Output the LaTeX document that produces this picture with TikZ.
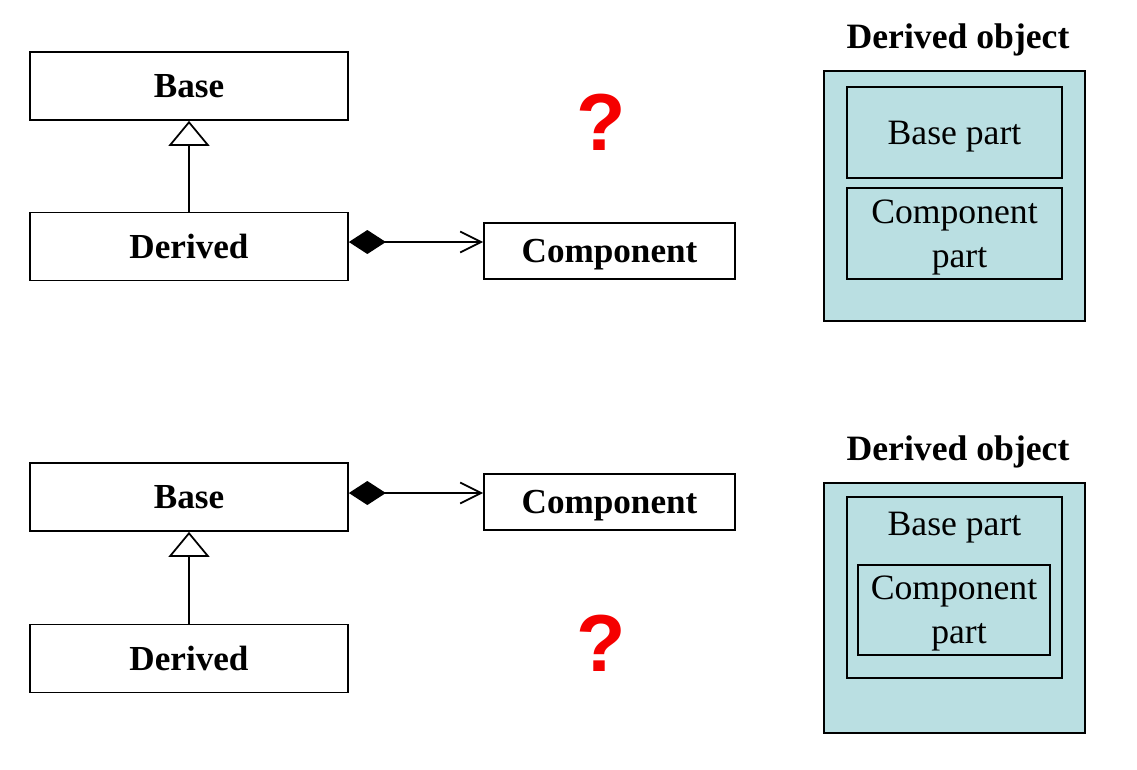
\documentclass[tikz,border=0pt]{standalone}
\usepackage{fontspec}
\setmainfont{Liberation Serif}
\newfontfamily\qfont{Liberation Sans}
\usetikzlibrary{arrows.meta}
\definecolor{objfill}{RGB}{186,223,226}
\definecolor{qred}{RGB}{245,0,0}

\begin{document}
\begin{tikzpicture}[
  x=0.02cm, y=-0.02cm,
  line width=1pt,
  classbox/.style={draw, fill=white, minimum width=6.36cm, minimum height=1.36cm, text height=13.2pt, text depth=0pt, font=\fontsize{20}{24}\selectfont\bfseries},
  compbox/.style={classbox, minimum width=5.02cm, minimum height=1.12cm},
  objbox/.style={draw, fill=objfill, minimum width=5.22cm, minimum height=5cm},
  partbox/.style={draw, fill=objfill, minimum width=4.3cm, minimum height=1.82cm, inner sep=0pt, align=center, text height=38.4pt, text depth=0pt, font=\fontsize{20.3}{25}\selectfont},
  part_label/.style={text height=13.4pt, text depth=0pt, font=\fontsize{20.3}{25}\selectfont},
  title_label/.style={text height=13.4pt, text depth=0pt, font=\fontsize{20.3}{24}\selectfont\bfseries},
  qmark/.style={font=\fontsize{46}{50}\selectfont\qfont\bfseries, text=qred},
  inherit/.style={-{Triangle[open, length=0.5cm, width=0.82cm, fill=white]}},
  compose/.style={{Diamond[length=0.74cm, width=0.48cm]}-{Straight Barb[length=0.42cm, width=0.42cm]}}
]
\useasboundingbox (0,0) rectangle (1137,769);
% first variant: component held by Derived
\node[classbox] (base1) at (189,86) {Base};
\node[classbox] (derived1) at (189,246.5) {Derived};
\node[compbox] (comp1) at (609.5,251) {Component};
\draw[inherit] (derived1) -- (base1);
\draw[compose] ([yshift=0.09cm]derived1.east) -- ([yshift=0.09cm]derived1.east -| comp1.west);
\node[qmark] (q1) at (601,122) {?};
\node[title_label] (title1) at (958,37) {Derived object};
\node[objbox] (obj1) at (954.5,196) {};
\node[partbox, text height=13.4pt] (bpart1) at (954.5,132.5) {Base part};
\node[partbox] (cpart1) at (954.5,233.5) {Component\\\hspace*{0.2cm}part};
% second variant: component held by Base
\node[classbox] (base2) at (189,497) {Base};
\node[classbox] (derived2) at (189,658.5) {Derived};
\node[compbox] (comp2) at (609.5,502) {Component};
\draw[inherit] (derived2) -- (base2);
\draw[compose] ([yshift=0.08cm]base2.east) -- ([yshift=0.08cm]base2.east -| comp2.west);
\node[qmark] (q2) at (601,643) {?};
\node[title_label] (title2) at (958,449) {Derived object};
\node[objbox] (obj2) at (954.5,608) {};
\node[partbox, minimum height=3.62cm] (bpart2) at (954.5,587.5) {};
\node[part_label] (btext2) at (954.5,524) {Base part};
\node[partbox, minimum width=3.84cm, minimum height=1.8cm] (cpart2) at (954,610) {Component\\\hspace*{0.2cm}part};
\end{tikzpicture}
\end{document}
